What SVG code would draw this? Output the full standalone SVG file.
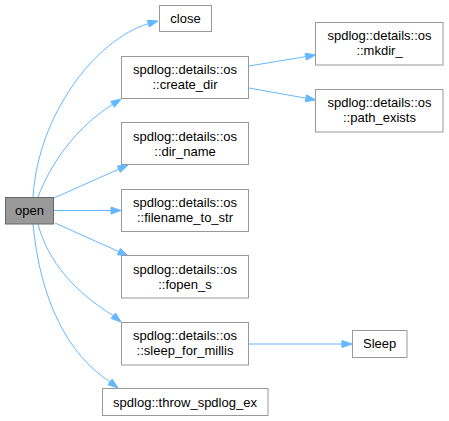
<svg xmlns="http://www.w3.org/2000/svg" width="449" height="421" viewBox="0 0 449 421">
<style>
.node rect{fill:#ffffff;stroke:#999999;stroke-width:1}
#n_open rect{fill:#999999;stroke:#666666}
text{font-family:"Liberation Sans",Arial,sans-serif;font-size:13px;fill:#000000;text-anchor:middle}
.edge path{fill:none;stroke:#63b8ff;stroke-width:1}
.edge polygon{fill:#63b8ff;stroke:#63b8ff;stroke-width:1}
</style>
<rect width="449" height="421" fill="#ffffff"/>
<g id="edges">
<g class="edge"><path d="M33,197 C38,115 95,40 148.4,23.6"/><polygon points="158,21 149.3,27 147.4,20.3"/></g>
<g class="edge"><path d="M38,197 C50,165 75,128 112.6,104.4"/><polygon points="121,99 114.5,107.3 110.7,101.5"/></g>
<g class="edge"><path d="M54,198 L118.9,169.1"/><polygon points="128,165 120.3,172.3 117.4,165.9"/></g>
<g class="edge"><path d="M54,210.5 L111,210.5"/><polygon points="121,210.5 111,207 111,214"/></g>
<g class="edge"><path d="M55,223 L118.9,251.6"/><polygon points="128,255.7 117.4,254.8 120.3,248.4"/></g>
<g class="edge"><path d="M38,224 C48,262 75,292 113.3,315.7"/><polygon points="121,322 111.1,318.4 115.5,313"/></g>
<g class="edge"><path d="M33,224 C40,300 68,355 110.1,381.9"/><polygon points="118,388 108,384.7 112.2,379.1"/></g>
<g class="edge"><path d="M249,66 L305.8,56.6"/><polygon points="315.7,55 306.4,60.1 305.2,53.2"/></g>
<g class="edge"><path d="M249,88 L305.9,98.2"/><polygon points="315.7,100 305.2,101.7 306.5,94.8"/></g>
<g class="edge"><path d="M249,344 L342,344"/><polygon points="352,344 342,340.5 342,347.5"/></g>
</g>
<g id="n_open" class="node"><rect x="5.5" y="197.5" width="48" height="26.5"/><text x="29.5" y="215">open</text></g>
<g id="n_close" class="node"><rect x="159.5" y="5.5" width="52" height="26"/><text x="185.5" y="23">close</text></g>
<g id="n_create_dir" class="node"><rect x="121.5" y="56.5" width="127" height="42"/><text x="185" y="74">spdlog::details::os</text><text x="185" y="89">::create_dir</text></g>
<g id="n_dir_name" class="node"><rect x="121.5" y="122.5" width="127" height="42"/><text x="185" y="140.5">spdlog::details::os</text><text x="185" y="155.5">::dir_name</text></g>
<g id="n_filename_to_str" class="node"><rect x="121.5" y="189.5" width="127" height="42"/><text x="185" y="207">spdlog::details::os</text><text x="185" y="222">::filename_to_str</text></g>
<g id="n_fopen_s" class="node"><rect x="121.5" y="255.5" width="127" height="42.5"/><text x="185" y="273.5">spdlog::details::os</text><text x="185" y="288.5">::fopen_s</text></g>
<g id="n_sleep_for_millis" class="node"><rect x="121.5" y="322.5" width="127" height="42.5"/><text x="185" y="340">spdlog::details::os</text><text x="185" y="355">::sleep_for_millis</text></g>
<g id="n_throw_spdlog_ex" class="node"><rect x="102.5" y="388.5" width="165.5" height="27"/><text x="185" y="406.5">spdlog::throw_spdlog_ex</text></g>
<g id="n_mkdir_" class="node"><rect x="315.5" y="22.5" width="127.5" height="42.5"/><text x="379.5" y="40">spdlog::details::os</text><text x="379.5" y="55">::mkdir_</text></g>
<g id="n_path_exists" class="node"><rect x="315.5" y="89.5" width="127.5" height="42.5"/><text x="379.5" y="107">spdlog::details::os</text><text x="379.5" y="122">::path_exists</text></g>
<g id="n_Sleep" class="node"><rect x="352.5" y="330.5" width="54.5" height="27"/><text x="379.7" y="348">Sleep</text></g>
</svg>
